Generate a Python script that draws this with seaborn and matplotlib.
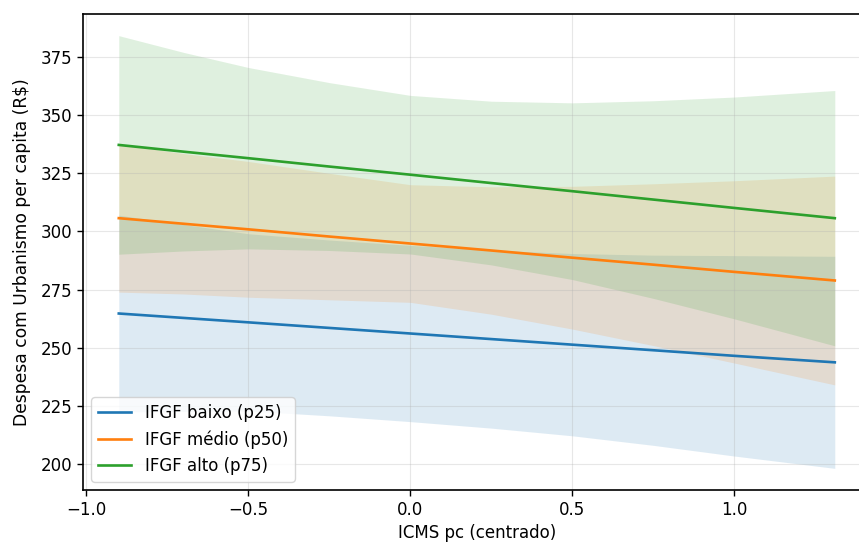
import numpy as np
import pandas as pd
import matplotlib
matplotlib.use("Agg")
import matplotlib.pyplot as plt
import seaborn as sns

# x grid (ICMS pc centrado)
x_vals = [-0.9, -0.7, -0.5, -0.25, 0.0, 0.25, 0.5, 0.75, 1.0, 1.31]

groups = ["IFGF baixo (p25)", "IFGF médio (p50)", "IFGF alto (p75)"]

# fitted lines
pred_baixo = [264.7, 262.8, 260.9, 258.5, 256.1, 253.7, 251.3, 248.9, 246.5, 243.7]
pred_medio = [305.7, 303.3, 300.9, 297.8, 294.8, 291.8, 288.7, 285.7, 282.6, 278.9]
pred_alto = [337.2, 334.3, 331.5, 327.9, 324.4, 320.8, 317.3, 313.7, 310.1, 305.7]

# confidence bands
lo_baixo = [222.4, 222.6, 222.8, 220.7, 218.2, 215.4, 212.1, 208.0, 203.4, 198.1]
hi_baixo = [307.0, 303.0, 299.0, 296.3, 294.0, 292.0, 290.5, 289.8, 289.6, 289.3]
lo_medio = [273.9, 273.1, 271.7, 270.6, 269.5, 264.4, 258.0, 250.9, 243.4, 234.0]
hi_medio = [337.5, 333.5, 330.1, 325.0, 320.1, 319.2, 319.4, 320.5, 321.8, 323.8]
lo_alto = [290.2, 291.6, 292.5, 291.8, 290.3, 285.6, 279.3, 271.2, 262.4, 250.8]
hi_alto = [384.2, 377.0, 370.5, 364.0, 358.5, 356.0, 355.3, 356.2, 357.8, 360.6]

preds = [pred_baixo, pred_medio, pred_alto]
los = [lo_baixo, lo_medio, lo_alto]
his = [hi_baixo, hi_medio, hi_alto]

rows = []
for g, p, lo, hi in zip(groups, preds, los, his):
    for xv, pv, lv, hv in zip(x_vals, p, lo, hi):
        rows.append({"x": xv, "y": pv, "lo": lv, "hi": hv, "grupo": g})
df = pd.DataFrame(rows)

palette = sns.color_palette("tab10", 3)

plt.rcParams.update({
    "font.size": 12,
    "xtick.major.size": 4.3,
    "ytick.major.size": 4.3,
    "axes.linewidth": 1.2,
    "xtick.major.width": 1.0,
    "ytick.major.width": 1.0,
})

fig = plt.figure(figsize=(8.59, 5.43), dpi=100)
ax = fig.add_axes([0.0966, 0.0976, 0.9169, 0.8766])

for g, c in zip(groups, palette):
    d = df[df["grupo"] == g]
    ax.fill_between(d["x"], d["lo"], d["hi"], color=c, alpha=0.15, linewidth=0)

sns.lineplot(data=df, x="x", y="y", hue="grupo", palette=palette,
             hue_order=groups, ax=ax, linewidth=1.9, estimator=None, sort=True)

ax.grid(True, alpha=0.3)
ax.set_xlabel("ICMS pc (centrado)", fontsize=12)
ax.set_ylabel("Despesa com Urbanismo per capita (R$)", fontsize=12.3, labelpad=7)
ax.set_yticks([200, 225, 250, 275, 300, 325, 350, 375])
ax.set_xticks([-1.0, -0.5, 0.0, 0.5, 1.0])
ax.tick_params(labelsize=12)
leg = ax.legend(loc="lower left", fontsize=12, title=None)

fig.savefig("out.png", dpi=100)
